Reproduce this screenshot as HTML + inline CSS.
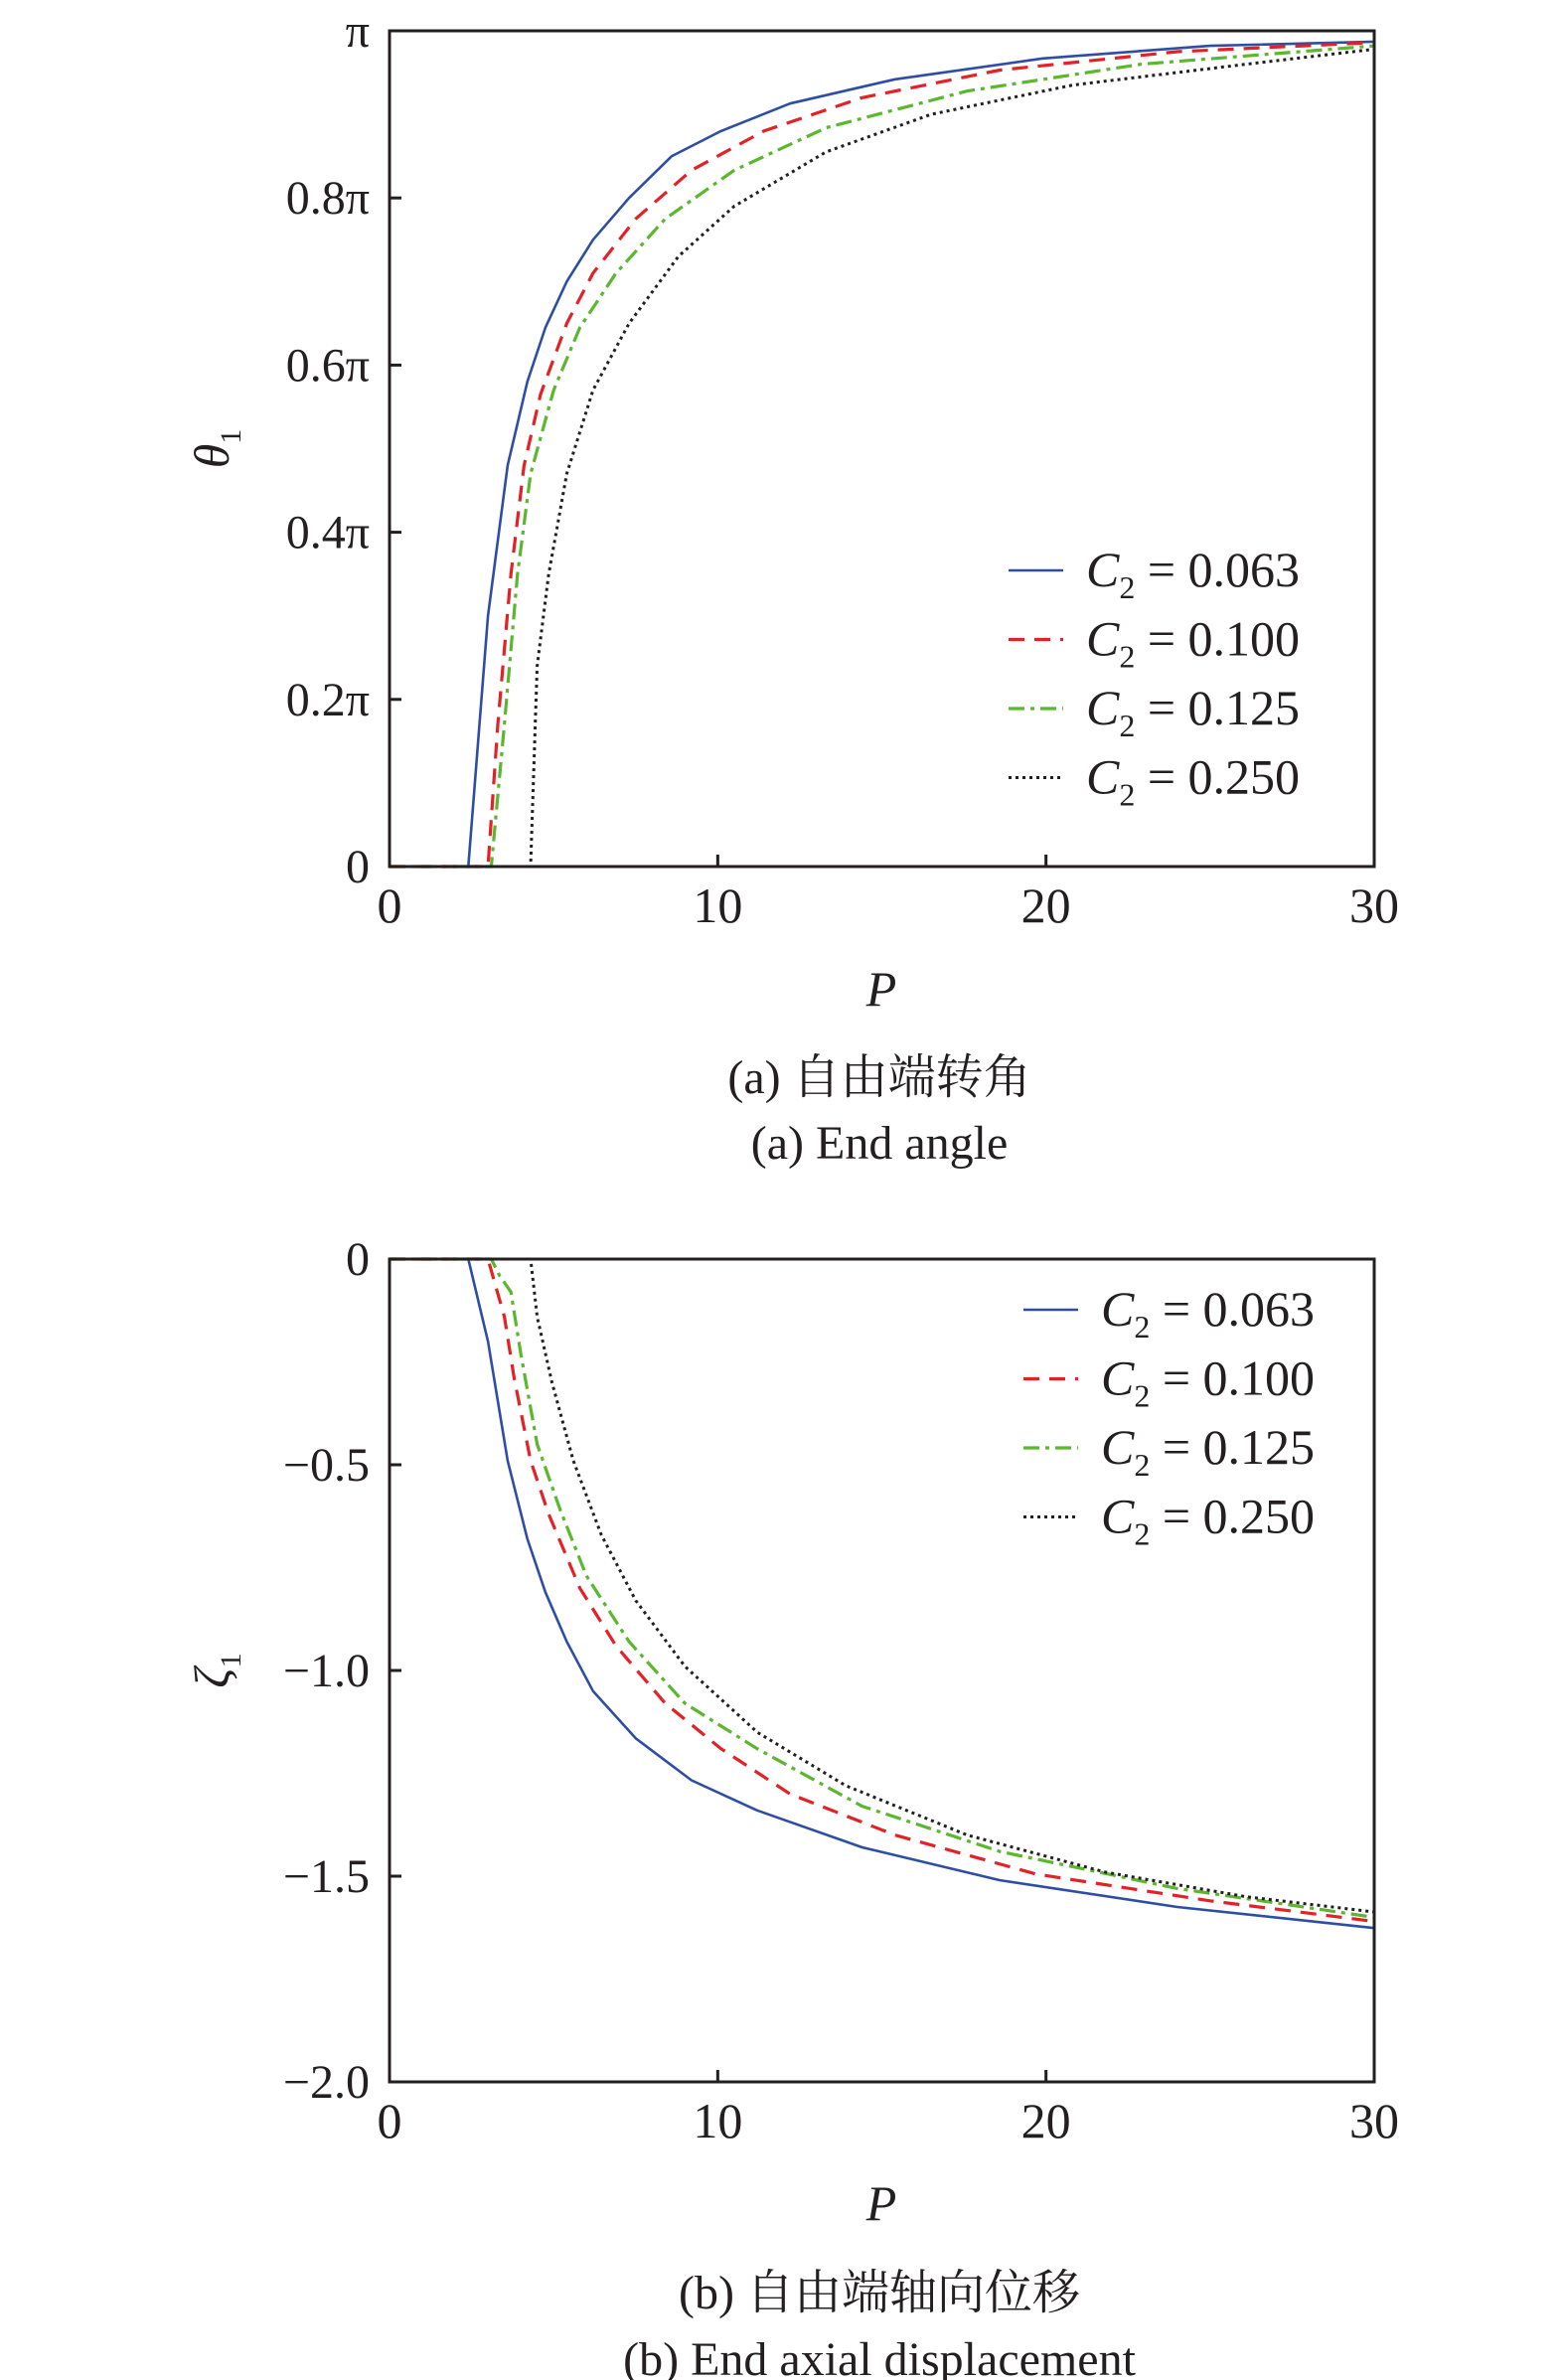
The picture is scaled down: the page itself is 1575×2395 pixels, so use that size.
<!DOCTYPE html>
<html><head><meta charset="utf-8"><style>
html,body{margin:0;padding:0;background:#fff}
svg{display:block}
text{font-family:"Liberation Serif","Noto Serif CJK SC",serif;fill:#231f20}
</style></head><body>
<svg id="fig" width="1575" height="2395" viewBox="0 0 1575 2395"></svg>
<script>
const xTicks=[0,10,20,30];
const xTickLabels=["0","10","20","30"];
const aYTicks=[0,0.2,0.4,0.6,0.8,1];
const aYTickLabels=["0","0.2π","0.4π","0.6π","0.8π","π"];
const bYTicks=[0,-0.5,-1,-1.5,-2];
const bYTickLabels=["0","−0.5","−1.0","−1.5","−2.0"];
const legendLabels=["0.063","0.100","0.125","0.250"];
// (a) theta1 / pi
const aBlueP=[0,2.4,3.0,3.6,4.2,4.75,5.4,6.2,7.3,8.6,10.1,12.2,15.4,19.9,25,30];
const aBlueV=[0,0,0.30,0.48,0.58,0.645,0.70,0.75,0.80,0.85,0.88,0.913,0.942,0.967,0.982,0.987];
const aRedP=[0,3.0,3.3,3.7,4.1,4.6,5.4,6.2,7.5,9.2,11.4,14.4,18.6,24,30];
const aRedV=[0,0,0.17,0.35,0.48,0.565,0.65,0.71,0.775,0.833,0.88,0.92,0.953,0.975,0.986];
const aGreenP=[0,3.1,3.5,3.9,4.3,5.0,5.8,6.9,8.4,10.5,13.3,17.6,22.9,30];
const aGreenV=[0,0,0.17,0.35,0.47,0.57,0.645,0.71,0.775,0.833,0.884,0.928,0.96,0.982];
const aBlackP=[0,4.3,4.5,4.85,5.4,6.2,7.3,8.8,10.5,13.3,16.5,20.8,26.1,30];
const aBlackV=[0,0,0.24,0.35,0.47,0.57,0.65,0.73,0.79,0.855,0.9,0.935,0.96,0.978];
// (b) zeta1
const bBlueP=[0,2.4,3.0,3.6,4.2,4.75,5.4,6.2,7.5,9.2,11.2,14.4,18.6,24,30];
const bBlueV=[0,0,-0.20,-0.49,-0.68,-0.81,-0.93,-1.05,-1.165,-1.267,-1.34,-1.43,-1.51,-1.575,-1.626];
const bRedP=[0,3.0,3.5,3.8,4.3,4.85,5.8,6.9,8.4,10.1,12.2,15.4,19.7,25,30];
const bRedV=[0,0,-0.14,-0.29,-0.49,-0.62,-0.80,-0.94,-1.08,-1.19,-1.30,-1.40,-1.495,-1.56,-1.61];
const bGreenP=[0,3.1,3.35,3.7,4.0,4.5,5.2,6.0,7.3,9.0,11.2,14.4,18.6,24,30];
const bGreenV=[0,0,-0.04,-0.08,-0.23,-0.45,-0.61,-0.77,-0.93,-1.08,-1.19,-1.33,-1.44,-1.53,-1.60];
const bBlackP=[0,4.3,4.5,4.95,5.6,6.45,7.5,9.0,11.2,13.9,17.6,21.8,26.1,30];
const bBlackV=[0,0,-0.14,-0.30,-0.49,-0.67,-0.83,-0.99,-1.15,-1.28,-1.40,-1.49,-1.55,-1.587];

const NS="http://www.w3.org/2000/svg";
const svg=document.getElementById('fig');
function el(tag,attrs,parent,txt){const e=document.createElementNS(NS,tag);for(const k in attrs)e.setAttribute(k,attrs[k]);if(txt!==undefined)e.textContent=txt;(parent||svg).appendChild(e);return e;}
const styles=[
 {c:"#2e4ea3",d:"",w:2.6,n:"c2-0063"},
 {c:"#e32228",d:"16,10",w:3.2,n:"c2-0100"},
 {c:"#5ab72e",d:"16,6,4,6",w:3.2,n:"c2-0125"},
 {c:"#231f20",d:"3,4",w:3,n:"c2-0250"}];

function panel(id,top,bottom,yMin,yMax,yT,yTL,series,legX,legY,yLab,pY,capZh,capEn,capY1,capY2){
  const L=392,R=1383;
  const g=el('g',{});
  
  
  const sx=v=>L+(v-xTicks[0])/(xTicks[xTicks.length-1]-xTicks[0])*(R-L);
  const sy=v=>bottom-(v-yMin)/(yMax-yMin)*(bottom-top);
  series.forEach((s,i)=>{
    const st=styles[i];
    const pts=s[0].map((p,j)=>sx(p).toFixed(1)+","+sy(s[1][j]).toFixed(1)).join(" ");
    const pl=el('polyline',{points:pts,fill:"none",stroke:st.c,"stroke-width":st.w,"stroke-dasharray":st.d,"stroke-linejoin":"round"},g);
    
    
  });
  const fr=el('rect',{x:L,y:top,width:R-L,height:bottom-top,fill:"none",stroke:"#231f20","stroke-width":3},g);
  
  
  xTicks.forEach((t,i)=>{
    el('line',{x1:sx(t),x2:sx(t),y1:bottom,y2:bottom-12,stroke:"#231f20","stroke-width":3},g);
    const tx=el('text',{x:sx(t),y:bottom+56,"font-size":50,"text-anchor":"middle"},g,xTickLabels[i]);
    
    
  });
  yT.forEach((t,i)=>{
    el('line',{x1:L,x2:L+12,y1:sy(t),y2:sy(t),stroke:"#231f20","stroke-width":3},g);
    const tx=el('text',{x:372,y:sy(t)+16,"font-size":48,"text-anchor":"end"},g,yTL[i]);
    
    
  });
  legendLabels.forEach((lab,i)=>{
    const st=styles[i];const y=legY+i*69.5;
    const lg=el('g',{},g);
    
    
    el('line',{x1:legX,x2:legX+55,y1:y,y2:y,stroke:st.c,"stroke-width":st.w,"stroke-dasharray":st.d},lg);
    const t=el('text',{x:legX+78,y:y+16,"font-size":50},lg);
    el('tspan',{"font-style":"italic"},t,"C");
    el('tspan',{"font-size":32,dy:12},t,"2");
    el('tspan',{dy:-12},t," = "+lab);
  });
  const yl=el('text',{x:0,y:0,"font-size":50,"font-style":"italic",transform:`translate(230,${(top+bottom)/2}) rotate(-90)`,"text-anchor":"middle"},g);
  
  
  el('tspan',{},yl,yLab);
  el('tspan',{"font-size":30,dy:12,"font-style":"normal"},yl,"1");
  const xl=el('text',{x:887,y:pY,"font-size":50,"font-style":"italic","text-anchor":"middle"},g,"P");
  
  
  const c1=el('text',{x:885,y:capY1,"font-size":48,"text-anchor":"middle"},g,capZh);
  
  
  const c2=el('text',{x:885,y:capY2,"font-size":48,"text-anchor":"middle"},g,capEn);
  
  
}
panel('panel-a-end-angle',31,872,0,1,aYTicks,aYTickLabels,
 [[aBlueP,aBlueV],[aRedP,aRedV],[aGreenP,aGreenV],[aBlackP,aBlackV]],
 1015,574,"θ",1012,"(a) 自由端转角","(a) End angle",1100,1166);
panel('panel-b-axial-displacement',1267,2095,-2,0,bYTicks,bYTickLabels,
 [[bBlueP,bBlueV],[bRedP,bRedV],[bGreenP,bGreenV],[bBlackP,bBlackV]],
 1030,1318,"ζ",2234,"(b) 自由端轴向位移","(b) End axial displacement",2323,2390);
</script>
</body></html>
